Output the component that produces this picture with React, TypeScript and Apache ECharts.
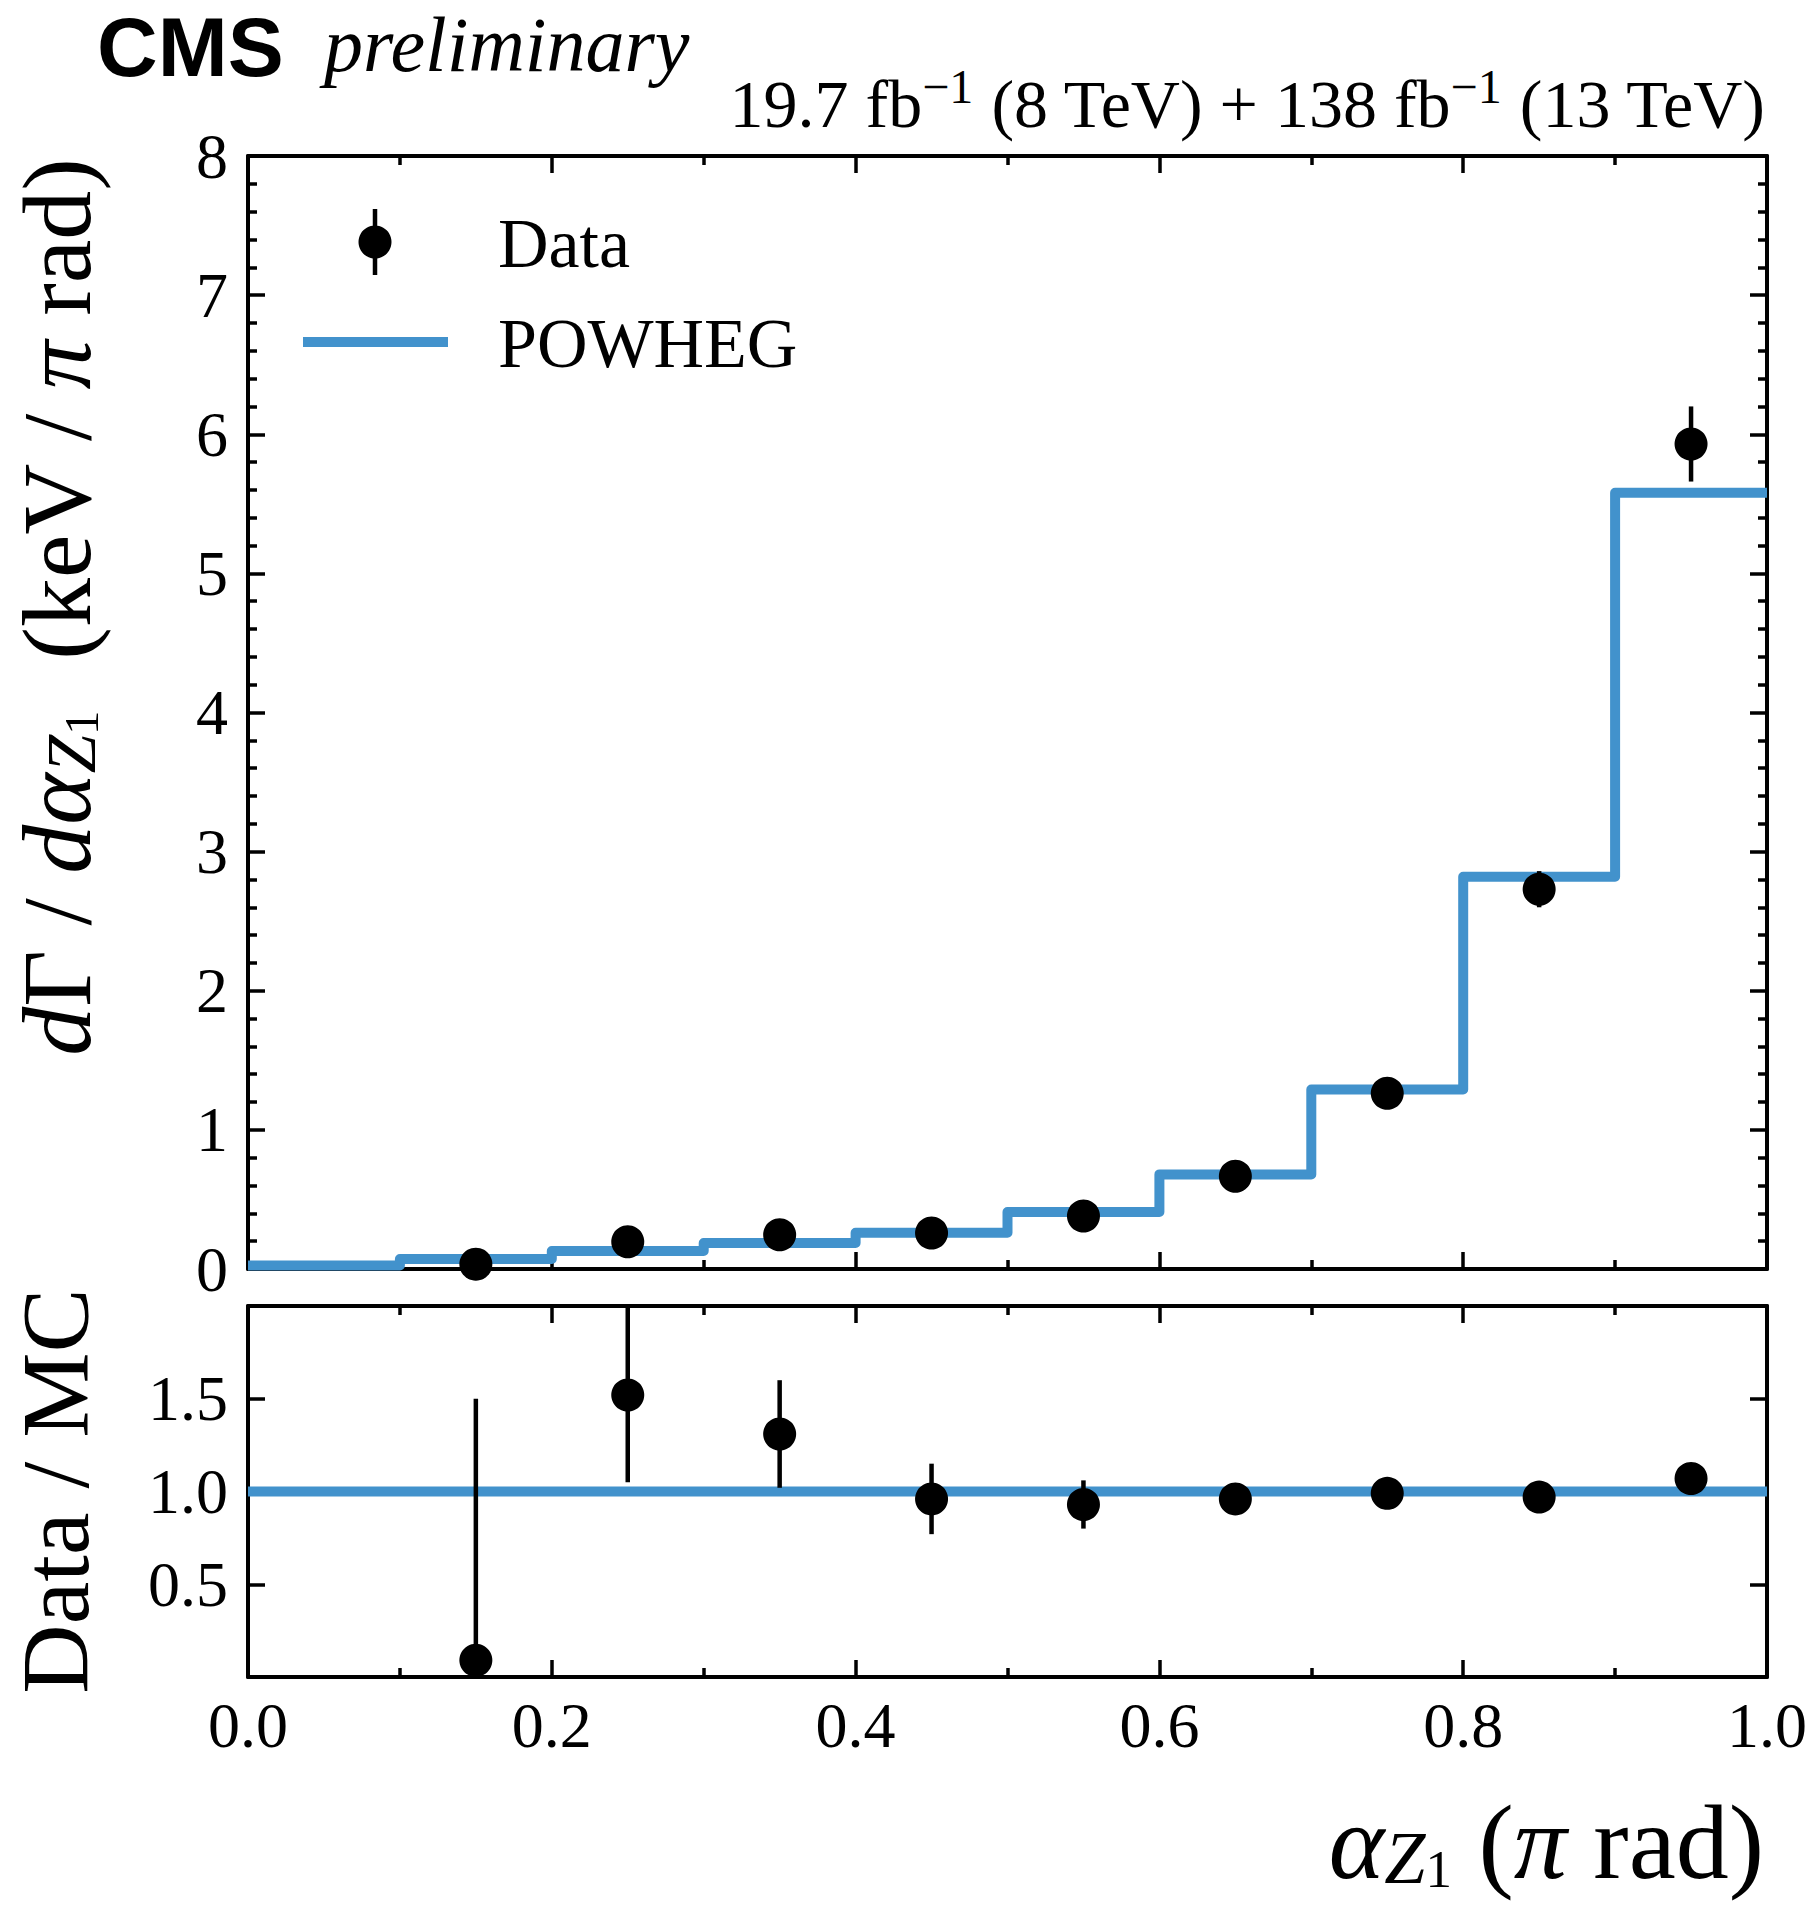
import { useEffect, useRef } from "react";
import * as echarts from "echarts";

// bin edges and POWHEG prediction (step histogram)
const binEdges = [0, 0.1, 0.2, 0.3, 0.4, 0.5, 0.6, 0.7, 0.8, 0.9, 1.0];
const powheg = [0.025, 0.072, 0.13, 0.187, 0.26, 0.41, 0.68, 1.29, 2.82, 5.58];

// measured points
const dataX = [0.15, 0.25, 0.35, 0.45, 0.55, 0.65, 0.75, 0.85, 0.95];
const dataY = [0.035, 0.196, 0.246, 0.259, 0.381, 0.667, 1.263, 2.73, 5.93];
const dataErr = [0.11, 0.06, 0.05, 0.05, 0.05, 0.04, 0.05, 0.13, 0.27];

// ratio panel
const ratioY = [0.09, 1.52, 1.31, 0.96, 0.93, 0.96, 0.99, 0.97, 1.07];
const ratioErr = [1.41, 0.47, 0.29, 0.19, 0.13, 0.05, 0.03, 0.04, 0.04];

const BLUE = "#4292cc";
const SERIF = '"Liberation Serif", "DejaVu Serif", serif';
const SANS = '"Liberation Sans", Arial, sans-serif';

const tickStyle = { color: "#000", width: 3.5 };

function xAxis(grid: number, position: string, labels: boolean) {
  return {
    type: "value",
    gridIndex: grid,
    position,
    min: 0,
    max: 1,
    interval: 0.2,
    axisLine: { show: true, onZero: false, lineStyle: { color: "#000", width: 4 } },
    axisTick: { show: true, inside: true, length: 17, lineStyle: tickStyle },
    minorTick: { show: true, splitNumber: 2, length: 9, lineStyle: tickStyle },
    splitLine: { show: false },
    minorSplitLine: { show: false },
    axisLabel: {
      show: labels,
      margin: 16,
      fontSize: 64,
      fontFamily: SERIF,
      color: "#000",
      showMinLabel: true,
      showMaxLabel: true,
      formatter: (v: number) => v.toFixed(1),
    },
  };
}

function yAxis(grid: number, position: string, labels: boolean, main: boolean) {
  return {
    type: "value",
    gridIndex: grid,
    position,
    min: 0,
    max: main ? 8 : 2,
    interval: main ? 1 : 0.5,
    axisLine: { show: true, onZero: false, lineStyle: { color: "#000", width: 4 } },
    axisTick: { show: true, inside: true, length: 17, lineStyle: tickStyle },
    minorTick: { show: main, splitNumber: 5, length: 9, lineStyle: tickStyle },
    splitLine: { show: false },
    minorSplitLine: { show: false },
    axisLabel: {
      show: labels,
      margin: 20,
      fontSize: 64,
      fontFamily: SERIF,
      color: "#000",
      showMinLabel: true,
      showMaxLabel: true,
      formatter: (v: number) =>
        main ? String(Math.round(v)) : v <= 0 || v >= 2 ? "" : v.toFixed(1),
    },
  };
}

const errorBars = (xi: number, yi: number) => ({
  type: "custom",
  xAxisIndex: xi,
  yAxisIndex: yi,
  clip: true,
  z: 3,
  encode: { x: 0, y: 1 },
  renderItem: (_params: any, api: any) => {
    const x = api.value(0);
    const lo = api.coord([x, api.value(2)]);
    const hi = api.coord([x, api.value(3)]);
    return {
      type: "line",
      shape: { x1: lo[0], y1: lo[1], x2: hi[0], y2: hi[1] },
      style: { stroke: "#000", lineWidth: 4.5 },
    };
  },
});

// rich styles for axis titles; small lineHeight on subscripts pushes them down
const titleRich = (size: number) => ({
  n: { fontFamily: SERIF, fontSize: size, lineHeight: size, color: "#000" },
  i: { fontFamily: SERIF, fontSize: size, lineHeight: size, fontStyle: "italic", color: "#000" },
  s: {
    fontFamily: SERIF,
    fontSize: Math.round(size * 0.7),
    lineHeight: Math.round(size * 0.4),
    fontStyle: "italic",
    verticalAlign: "bottom",
    color: "#000",
  },
  ss: {
    fontFamily: SERIF,
    fontSize: Math.round(size * 0.5),
    lineHeight: Math.round(size * 0.16),
    verticalAlign: "bottom",
    color: "#000",
  },
});

function App() {
  const chartRef = useRef<HTMLDivElement>(null);

  useEffect(() => {
    const chart = echarts.init(chartRef.current, null, { renderer: "svg" });

    const option = {
      animation: false,
      backgroundColor: "#fff",
      grid: [
        { left: 248, top: 156, width: 1519, height: 1113, outerBoundsMode: "none" },
        { left: 248, top: 1306, width: 1519, height: 371, outerBoundsMode: "none" },
      ],
      xAxis: [
        xAxis(0, "bottom", false),
        xAxis(0, "top", false),
        xAxis(1, "bottom", true),
        xAxis(1, "top", false),
      ],
      yAxis: [
        yAxis(0, "left", true, true),
        yAxis(0, "right", false, true),
        yAxis(1, "left", true, false),
        yAxis(1, "right", false, false),
      ],
      series: [
        {
          type: "line",
          name: "POWHEG",
          xAxisIndex: 0,
          yAxisIndex: 0,
          step: "end",
          symbol: "none",
          z: 2,
          lineStyle: { color: BLUE, width: 10, join: "round" },
          data: binEdges.map((e, i) => [e, powheg[Math.min(i, powheg.length - 1)]]),
        },
        {
          ...errorBars(0, 0),
          data: dataX.map((x, i) => [x, dataY[i], dataY[i] - dataErr[i], dataY[i] + dataErr[i]]),
        },
        {
          type: "scatter",
          name: "Data",
          xAxisIndex: 0,
          yAxisIndex: 0,
          symbol: "circle",
          symbolSize: 33,
          z: 4,
          itemStyle: { color: "#000", opacity: 1 },
          data: dataX.map((x, i) => [x, dataY[i]]),
        },
        {
          type: "line",
          xAxisIndex: 2,
          yAxisIndex: 2,
          symbol: "none",
          z: 2,
          lineStyle: { color: BLUE, width: 10 },
          data: [
            [0, 1],
            [1, 1],
          ],
        },
        {
          ...errorBars(2, 2),
          data: dataX.map((x, i) => [x, ratioY[i], ratioY[i] - ratioErr[i], ratioY[i] + ratioErr[i]]),
        },
        {
          type: "scatter",
          xAxisIndex: 2,
          yAxisIndex: 2,
          symbol: "circle",
          symbolSize: 33,
          z: 4,
          itemStyle: { color: "#000", opacity: 1 },
          data: dataX.map((x, i) => [x, ratioY[i]]),
        },
      ],
      graphic: [
        {
          type: "text",
          x: 97,
          y: 47,
          style: {
            text: "CMS",
            font: `bold 84px ${SANS}`,
            fill: "#000",
            align: "left",
            verticalAlign: "middle",
          },
        },
        {
          type: "text",
          x: 324,
          y: 44,
          style: {
            text: "preliminary",
            font: `italic 78px ${SERIF}`,
            fill: "#000",
            align: "left",
            verticalAlign: "middle",
          },
        },
        {
          type: "text",
          x: 1765,
          y: 104,
          style: {
            text: "{n|19.7 fb}{s|−1}{n| (8 TeV) + 138 fb}{s|−1}{n| (13 TeV)}",
            rich: {
              n: { fontFamily: SERIF, fontSize: 68, lineHeight: 84, color: "#000" },
              s: { fontFamily: SERIF, fontSize: 48, lineHeight: 48, verticalAlign: "top", color: "#000" },
            },
            align: "right",
            verticalAlign: "middle",
          },
        },
        // legend
        {
          type: "line",
          shape: { x1: 375, y1: 209, x2: 375, y2: 275 },
          style: { stroke: "#000", lineWidth: 4.5 },
        },
        {
          type: "circle",
          shape: { cx: 375, cy: 242, r: 16.5 },
          style: { fill: "#000" },
        },
        {
          type: "text",
          x: 498,
          y: 243,
          style: {
            text: "Data",
            font: `70px ${SERIF}`,
            fill: "#000",
            align: "left",
            verticalAlign: "middle",
          },
        },
        {
          type: "line",
          shape: { x1: 303, y1: 342, x2: 448, y2: 342 },
          style: { stroke: BLUE, lineWidth: 10 },
        },
        {
          type: "text",
          x: 498,
          y: 343,
          style: {
            text: "POWHEG",
            font: `70px ${SERIF}`,
            fill: "#000",
            align: "left",
            verticalAlign: "middle",
          },
        },
        // axis titles
        {
          type: "text",
          x: 57,
          y: 158,
          rotation: Math.PI / 2,
          style: {
            text: "{i|d}{n|Γ / }{i|dα}{s|Z}{ss|1}{n|  (keV / }{i|π}{n| rad)}",
            rich: titleRich(98),
            align: "right",
            verticalAlign: "middle",
          },
        },
        {
          type: "text",
          x: 55,
          y: 1491,
          rotation: Math.PI / 2,
          style: {
            text: "{n|Data / MC}",
            rich: titleRich(96),
            align: "center",
            verticalAlign: "middle",
          },
        },
        {
          type: "text",
          x: 1764,
          y: 1842,
          style: {
            text: "{i|α}{s|Z}{ss|1}{n| (}{i|π}{n| rad)}",
            rich: titleRich(106),
            align: "right",
            verticalAlign: "middle",
          },
        },
      ],
    };

    chart.setOption(option as any);

    return () => {
      chart.dispose();
    };
  }, []);

  return (
    <div
      ref={chartRef}
      style={{ position: "absolute", left: 0, top: 0, width: "1808px", height: "1909px" }}
    ></div>
  );
}

export default App;
